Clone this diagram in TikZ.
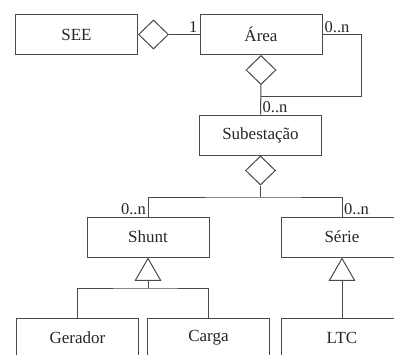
\documentclass[tikz,border=0pt]{standalone}
\usepackage{fontspec}
\setmainfont{Liberation Serif}
\usepackage{tikz}
\usetikzlibrary{shapes.geometric}

\definecolor{linegray}{HTML}{4A4A4A}
\definecolor{textgray}{HTML}{262626}

\begin{document}
\begin{tikzpicture}[x=1pt,y=-1pt,
		classbox/.style={draw=linegray,line width=1pt,minimum width=122pt,minimum height=40pt,
			inner sep=0pt,text=textgray,font=\fontsize{17}{19}\selectfont},
		agg/.style={diamond,draw=linegray,line width=1pt,fill=white,minimum width=30pt,minimum height=29pt,inner sep=0pt},
		gen/.style={regular polygon,regular polygon sides=3,draw=linegray,line width=1pt,fill=white,minimum size=29pt,inner sep=0pt},
		mult/.style={text=textgray,font=\fontsize{16.5}{18}\selectfont,inner sep=2pt},
		conn/.style={draw=linegray,line width=1pt}]
	\useasboundingbox (0,0) rectangle (394,354);
	% classes
	\node[classbox] (see) at (76.5,34.5) {SEE};
	\node[classbox] (area) at (261,34.5) {Área};
	\node[classbox] (sub) at (260.5,135) {Subestação};
	\node[classbox] (shunt) at (148,237) {Shunt};
	\node[classbox] (serie) at (342,237) {Série};
	\node[classbox] (gerador) at (77.5,338) {Gerador};
	\node[classbox] (carga) at (208.5,338) {Carga};
	\node[classbox] (ltc) at (342,338) {LTC};
		% aggregations
		\node[agg,anchor=west] (dSee) at (see.east) {};
		\node[agg,anchor=north] (dArea) at (area.south) {};
		\node[agg,anchor=north] (dSub) at (sub.south) {};
		\draw[conn] (dSee.east) -- (area.west);
		\draw[conn] (dArea.south) -- (sub.north);
		\coordinate (loop) at (dArea.south |- 0,96);
		\draw[conn] (area.east) -- ++(39,0) |- (loop);
		\coordinate (fork) at (dSub.south |- 0,197);
		\draw[conn] (dSub.south) -- (fork);
		\draw[conn] (shunt.north) |- (fork) -| (serie.north);
		% generalizations
		\node[gen,anchor=corner 1] (tShunt) at (shunt.south) {};
		\node[gen,anchor=corner 1] (tSerie) at (serie.south) {};
		\coordinate (gfork) at (tShunt.side 2 |- 0,288);
		\draw[conn] (tShunt.side 2) -- (gfork);
		\draw[conn] (gerador.north) |- (gfork) -| (carga.north);
		\draw[conn] (tSerie.side 2) -- (ltc.north);
	% multiplicities
	\node[mult,above left] (mSee) at (area.west) {1};
	\node[mult,above right] (mArea) at (area.east) {0..n};
	\node[mult,above right] (mSub) at (sub.north) {0..n};
	\node[mult,above left] (mShunt) at (shunt.north) {0..n};
	\node[mult,above right] (mSerie) at (serie.north) {0..n};
\end{tikzpicture}
\end{document}
